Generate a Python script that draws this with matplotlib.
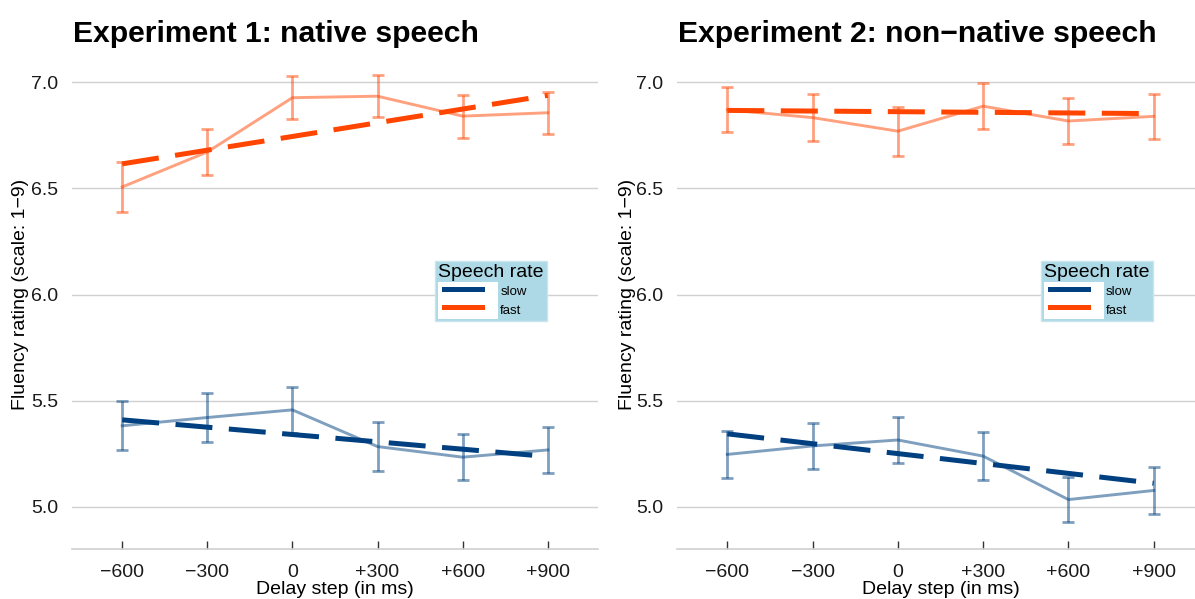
import matplotlib
matplotlib.use('Agg')
import matplotlib.pyplot as plt
from matplotlib.legend_handler import HandlerLine2D
from matplotlib.lines import Line2D
from matplotlib.patches import Rectangle

plt.rcParams['font.family'] = ['Liberation Sans', 'DejaVu Sans']

# data
delay = [-600, -300, 0, 300, 600, 900]
delay_labels = ['\u2212600', '\u2212300', '0', '+300', '+600', '+900']
fit_x = [-600, 900]

exp1_fast_mean = [6.507, 6.672, 6.928, 6.935, 6.841, 6.857]
exp1_fast_se = [0.118, 0.108, 0.100, 0.098, 0.102, 0.098]
exp1_fast_fit = [6.616, 6.939]
exp1_slow_mean = [5.381, 5.420, 5.456, 5.283, 5.233, 5.267]
exp1_slow_se = [0.115, 0.114, 0.110, 0.117, 0.110, 0.110]
exp1_slow_fit = [5.409, 5.236]

exp2_fast_mean = [6.871, 6.834, 6.770, 6.888, 6.818, 6.840]
exp2_fast_se = [0.106, 0.110, 0.115, 0.108, 0.107, 0.107]
exp2_fast_fit = [6.868, 6.853]
exp2_slow_mean = [5.246, 5.286, 5.314, 5.238, 5.033, 5.076]
exp2_slow_se = [0.111, 0.109, 0.110, 0.112, 0.105, 0.111]
exp2_slow_fit = [5.343, 5.110]

titles = ['Experiment 1: native speech', 'Experiment 2: non\u2212native speech']

SLOW = '#004080'
FAST = '#FF4500'


class KeyHandler(HandlerLine2D):
    # legend key: white box with a shorter line inside it
    def create_artists(self, legend, orig_handle, xdescent, ydescent,
                       width, height, fontsize, trans):
        bg = Rectangle((-xdescent, -ydescent - 0.6), width, height + 1.2,
                       facecolor='white', edgecolor='none', transform=trans)
        arts = super().create_artists(legend, orig_handle, xdescent - 4.3, ydescent,
                                      27.4, height, fontsize, trans)
        return [bg] + arts


def draw_panel(ax, slow_mean, slow_se, slow_fit, fast_mean, fast_se, fast_fit):
    for mean, se, fit, col in [(slow_mean, slow_se, slow_fit, SLOW),
                               (fast_mean, fast_se, fast_fit, FAST)]:
        ax.errorbar(delay, mean, yerr=se, color=col, alpha=0.5, lw=2.1,
                    elinewidth=2.0, capsize=4.5, capthick=2.0, zorder=2)
        ax.plot(fit_x, fit, color=col, lw=3.6, dashes=(7.4, 3.3), zorder=3)

    ax.set_xlim(-777, 1077)
    ax.set_ylim(4.8, 7.2)
    ax.set_xticks(delay)
    ax.set_xticklabels(delay_labels)
    ax.set_yticks([5.0, 5.5, 6.0, 6.5, 7.0])
    ax.grid(axis='y', color='#D0D0D0', lw=1.0)
    ax.set_axisbelow(True)
    for s in ['top', 'left', 'right']:
        ax.spines[s].set_visible(False)
    ax.spines['bottom'].set_color('#D0D0D0')
    ax.spines['bottom'].set_linewidth(1.2)
    ax.tick_params(axis='x', direction='in', length=5.5, width=1.0, color='#333333',
                   pad=10.5, labelsize=14, labelcolor='#1a1a1a')
    ax.tick_params(axis='y', length=0, pad=10, labelsize=14, labelcolor='#1a1a1a')
    ax.set_xlabel('Delay step (in ms)', fontsize=14, labelpad=0)
    ax.set_ylabel('Fluency rating (scale: 1\u22129)', fontsize=14)
    ax.yaxis.label.set_va('center')

    handles = [Line2D([], [], color=SLOW, lw=3.6), Line2D([], [], color=FAST, lw=3.6)]
    leg = ax.legend(handles, ['slow', 'fast'], title='Speech rate', loc='upper left',
                    bbox_to_anchor=(0.690, 0.566), borderaxespad=0, fontsize=9.5,
                    title_fontsize=14, alignment='left', handlelength=4.55,
                    handleheight=1.6, labelspacing=0.1, handletextpad=0.15,
                    borderpad=0.25, frameon=True, fancybox=False,
                    handler_map={Line2D: KeyHandler()})
    leg.get_frame().set_facecolor('#ADD8E6')
    leg.get_frame().set_edgecolor('#C8E6EE')
    leg.get_frame().set_alpha(1)


def main():
    fig = plt.figure(figsize=(11.95, 5.99), dpi=100)
    bottom = 1 - 549 / 599
    height = (549 - 40) / 599
    ax1 = fig.add_axes([72 / 1195, bottom, 526 / 1195, height])
    ax2 = fig.add_axes([677 / 1195, bottom, 527 / 1195, height])

    draw_panel(ax1, exp1_slow_mean, exp1_slow_se, exp1_slow_fit,
               exp1_fast_mean, exp1_fast_se, exp1_fast_fit)
    draw_panel(ax2, exp2_slow_mean, exp2_slow_se, exp2_slow_fit,
               exp2_fast_mean, exp2_fast_se, exp2_fast_fit)
    ax1.yaxis.set_label_coords((20 - 72) / 526, 0.5)
    ax2.yaxis.set_label_coords((627 - 677) / 527, 0.5)

    for x0, t in zip([73, 678], titles):
        fig.text(x0 / 1195, 1 - 42 / 599, t, fontsize=21.7, fontweight='bold',
                 ha='left', va='baseline', color='black')

    fig.savefig('out.png', dpi=100)


if __name__ == '__main__':
    main()
